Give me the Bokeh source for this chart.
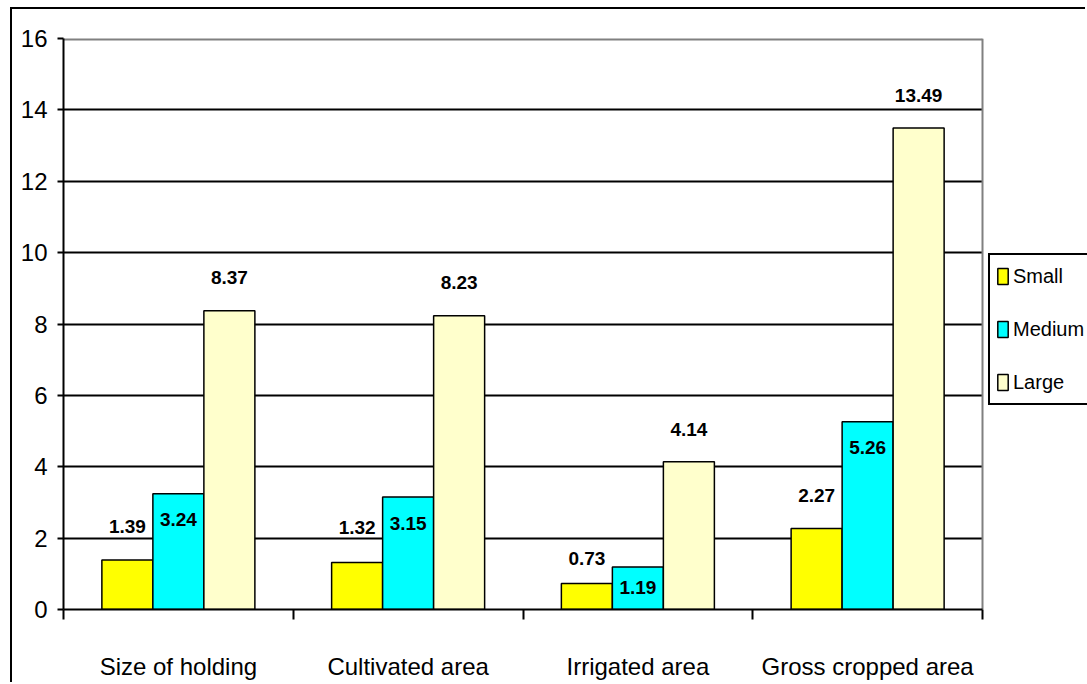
import numpy as np
from bokeh.plotting import figure
from bokeh.models import FixedTicker, Legend, LegendItem
from bokeh.core.properties import value
from bokeh.embed import file_html
from bokeh.resources import INLINE

# --- data -------------------------------------------------------------
categories = ["Size of holding", "Cultivated area", "Irrigated area", "Gross cropped area"]
series_names = ["Small", "Medium", "Large"]
small = [1.39, 1.32, 0.73, 2.27]
medium = [3.24, 3.15, 1.19, 5.26]
large = [8.37, 8.23, 4.14, 13.49]
y_ticks = [0, 2, 4, 6, 8, 10, 12, 14, 16]

# --- styling ----------------------------------------------------------
FONT_NAME = "Liberation Sans"
FONT = value(FONT_NAME)
colors = ["#FFFF00", "#00FFFF", "#FFFFCC"]
offsets = [-0.222, 0.0, 0.222]
bar_width = 0.222
# vertical shift of each value label in px (positive = above the bar top)
label_shift = [[33, 35, 25, 33], [-26, -26, -20, -26], [33, 33, 32, 33]]

n = len(categories)
centers = np.arange(n) + 0.5

W, H = 1075, 675
LEFT, TOP, BOTTOM = 51, 29, 75
plot_px = 919                      # pixel width of the plotting area
frame_px = W - LEFT                # frame runs to the right edge (legend lives there)
x_end = n * frame_px / plot_px

p = figure(width=W, height=H, x_range=(0, x_end), y_range=(0, 16),
           output_backend="svg", toolbar_location=None,
           min_border_left=LEFT, min_border_right=0,
           min_border_top=TOP, min_border_bottom=BOTTOM)
p.margin = (9, 0, 0, 12)
# outer chart border along the left and top edges
p.styles = {"box-shadow": "-2px -2px 0 0 black"}
p.background_fill_color = "white"
p.border_fill_color = "white"
p.outline_line_color = None

# gridlines, limited to the plotting area
p.xgrid.visible = False
p.ygrid.ticker = FixedTicker(ticks=y_ticks[1:-1])
p.ygrid.cross_bounds = (0, n)
p.ygrid.grid_line_color = "black"
p.ygrid.grid_line_width = 2

# plot-area border (top and right) in grey
p.segment(x0=[0, n], y0=[y_ticks[-1], 0], x1=[n, n], y1=[y_ticks[-1], y_ticks[-1]],
          line_color="#808080", line_width=[4, 2])

# y axis
p.yaxis.ticker = FixedTicker(ticks=y_ticks)
p.yaxis.axis_line_width = 2
p.yaxis.axis_line_color = "black"
p.yaxis.major_tick_line_width = 2
p.yaxis.major_tick_out = 6
p.yaxis.major_tick_in = 0
p.yaxis.minor_tick_out = 0
p.yaxis.minor_tick_in = 0
p.yaxis.major_label_standoff = 10
p.yaxis.major_label_text_font = FONT_NAME
p.yaxis.major_label_text_font_size = "24px"
p.yaxis.major_label_text_color = "black"

# x axis: labels at category centres, ticks at category boundaries
p.xaxis.ticker = FixedTicker(ticks=list(centers), minor_ticks=list(range(n + 1)))
p.xaxis.bounds = (0, n)
p.xaxis.major_label_overrides = {float(c): name for c, name in zip(centers, categories)}
p.xaxis.axis_line_width = 2
p.xaxis.axis_line_color = "black"
p.xaxis.major_tick_out = 0
p.xaxis.major_tick_in = 0
p.xaxis.minor_tick_out = 10
p.xaxis.minor_tick_in = 0
p.xaxis.minor_tick_line_width = 2
p.xaxis.minor_tick_line_color = "black"
p.xaxis.major_label_standoff = 33
p.xaxis.major_label_text_font = FONT_NAME
p.xaxis.major_label_text_font_size = "24px"
p.xaxis.major_label_text_color = "black"

items = []
for vals, name, color, off, shift in zip([small, medium, large], series_names,
                                         colors, offsets, label_shift):
    xs = centers + off
    r = p.vbar(x=xs, top=vals, bottom=0, width=bar_width, fill_color=color,
               line_color="black", line_width=1.5)
    items.append(LegendItem(label=name, renderers=[r]))
    p.text(x=xs, y=vals, text=[f"{v:.2f}" for v in vals],
           y_offset=[-s for s in shift], text_align="center",
           text_baseline="middle", text_font=FONT, text_font_style="bold",
           text_font_size="19px", text_color="black")

legend = Legend(items=items, location=(925, 204), orientation="vertical",
                glyph_width=13, glyph_height=20, label_height=30,
                spacing=23, padding=6, margin=0, label_standoff=4,
                label_text_font=FONT_NAME, label_text_font_size="20px",
                label_text_color="black",
                border_line_color="black", border_line_width=2,
                border_line_alpha=1.0,
                background_fill_color="white", background_fill_alpha=1.0)
p.add_layout(legend)

open("out.html", "w").write(file_html(p, INLINE))
